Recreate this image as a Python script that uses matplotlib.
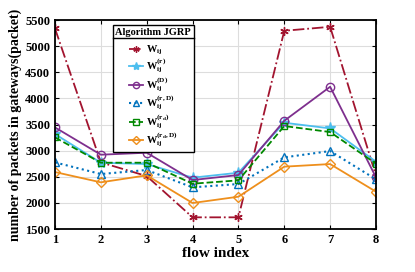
import numpy as np
import matplotlib
matplotlib.use("Agg")
import matplotlib.pyplot as plt
from matplotlib.lines import Line2D

plt.rcParams['font.family'] = 'Liberation Serif'
plt.rcParams['font.weight'] = 'bold'
plt.rcParams['mathtext.fontset'] = 'custom'
plt.rcParams['mathtext.rm'] = 'Liberation Serif:bold'
plt.rcParams['mathtext.bf'] = 'Liberation Serif:bold'
plt.rcParams['mathtext.it'] = 'Liberation Serif:bold'

# data
flow = [1, 2, 3, 4, 5, 6, 7, 8]
w_ij = [5340, 2776, 2514, 1724, 1724, 5296, 5372, 2520]
w_r = [3318, 2770, 2744, 2483, 2578, 3535, 3427, 2789]
w_d = [3446, 2923, 2961, 2438, 2534, 3573, 4224, 2489]
w_rd = [2776, 2553, 2630, 2298, 2362, 2872, 2993, 2451]
w_rdl = [3254, 2770, 2770, 2368, 2432, 3472, 3357, 2751]
w_rdld = [2591, 2394, 2528, 1998, 2119, 2694, 2744, 2215]

labels = [r'$\mathbf{W}_{\mathbf{ij}}$',
          r'$\mathbf{W}_{\mathbf{ij}}^{\mathbf{(r)}}$',
          r'$\mathbf{W}_{\mathbf{ij}}^{\mathbf{(D)}}$',
          r'$\mathbf{W}_{\mathbf{ij}}^{\mathbf{(r,D)}}$',
          r'$\mathbf{W}_{\mathbf{ij}}^{\mathbf{(r_d)}}$',
          r'$\mathbf{W}_{\mathbf{ij}}^{\mathbf{(r_d,D)}}$']

fig = plt.figure(figsize=(4.15, 2.72), dpi=100)
ax = fig.add_axes([0.1325, 0.158, 0.7735, 0.768])

ax.plot(flow, w_ij, color='#A2142F', ls='-.', marker=(6, 2, 0), ms=6, lw=1.3, label=labels[0])
ax.plot(flow, w_r, color='#4DBEEE', ls='-', marker='*', ms=8, lw=1.3, label=labels[1])
ax.plot(flow, w_d, color='#7E2F8E', ls='-', marker='o', ms=6, mfc='none', lw=1.3, label=labels[2])
ax.plot(flow, w_rd, color='#0072BD', ls=':', marker='^', ms=6, mfc='none', lw=1.5, label=labels[3])
ax.plot(flow, w_rdl, color='#008800', ls='--', marker='s', ms=5, mfc='none', lw=1.3, label=labels[4])
ax.plot(flow, w_rdld, color='#EE8F1C', ls='-', marker='D', ms=5, mfc='none', lw=1.3, label=labels[5])

ax.set_xlim(1, 8)
ax.set_ylim(1500, 5500)
ax.set_xticks(flow)
ax.set_yticks(np.arange(1500, 5501, 500))
ax.grid(True, color='#dddddd', lw=0.8)
ax.tick_params(direction='in', labelsize=9, length=3, top=True, right=True)
for s in ax.spines.values():
    s.set_linewidth(1.3)
ax.set_xlabel('flow index', fontsize=11, fontweight='bold', labelpad=1)
ax.set_ylabel('number of packets in gateways(packet)', fontsize=10, fontweight='bold', labelpad=2)

leg = ax.legend(loc='upper left', bbox_to_anchor=(0.18, 0.976), title='Algorithm JGRP',
                fontsize=7.5, title_fontproperties={'weight': 'bold', 'size': 7.5},
                frameon=True, fancybox=False, edgecolor='black', framealpha=1,
                handlelength=1.4, markerscale=0.75, labelspacing=0.0,
                borderpad=0.25, handletextpad=0.3, borderaxespad=0)
leg.get_frame().set_linewidth(1.0)
leg._legend_box.sep = 5

# separator line under the legend title
fig.canvas.draw()
r = fig.canvas.get_renderer()
fb = leg.get_frame().get_window_extent(r)
tb = leg.get_title().get_window_extent(r)
inv = fig.transFigure.inverted()
x0, y0 = inv.transform((fb.x0, tb.y0 - 1.5))
x1, _ = inv.transform((fb.x1, tb.y0 - 1.5))
fig.add_artist(Line2D([x0, x1], [y0, y0], color='black', lw=1.0, zorder=10))

fig.savefig('out.png', dpi=100)
